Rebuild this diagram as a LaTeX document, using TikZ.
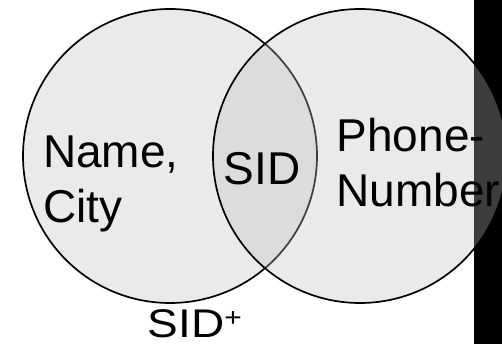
\documentclass[tikz,border=0pt]{standalone}
\usepackage{fontspec}
\setmainfont{Liberation Sans}
\definecolor{setgray}{RGB}{191,191,191}
\tikzset{
  setcirc/.style={circle,draw=black,line width=1.7pt,fill=setgray,fill opacity=0.32,draw opacity=1,
                  minimum size=294pt,inner sep=0},
  attr/.style={font=\fontsize{46}{54.5}\selectfont,inner sep=0,align=left},
  key/.style={font=\fontsize{40}{46}\selectfont,inner sep=0},
}
\begin{document}
\begin{tikzpicture}[x=1pt,y=-1pt]
  \useasboundingbox (0,0) rectangle (502,344);
  % dark strip at the right edge, it lies under both sets
  \fill[black] (474,0) rectangle (502,344);
  \node[setcirc] (lset) at (170,156) {};
  \node[setcirc] (rset) at (360,156) {};
  \node[attr,anchor=north west] (lonly) at (43,136) {Name,\\City};
  \node[attr,anchor=base] (both) at (262,185) {SID};
  \node[attr,anchor=north west] (ronly) at (336.5,118) {Phone-\\Number};
  \node[key,anchor=base west] (closure) at (147.5,337) {\scalebox{1.15}[1]{SID\raisebox{10.2pt}{\fontsize{26}{30}\selectfont +}}};
\end{tikzpicture}
\end{document}
